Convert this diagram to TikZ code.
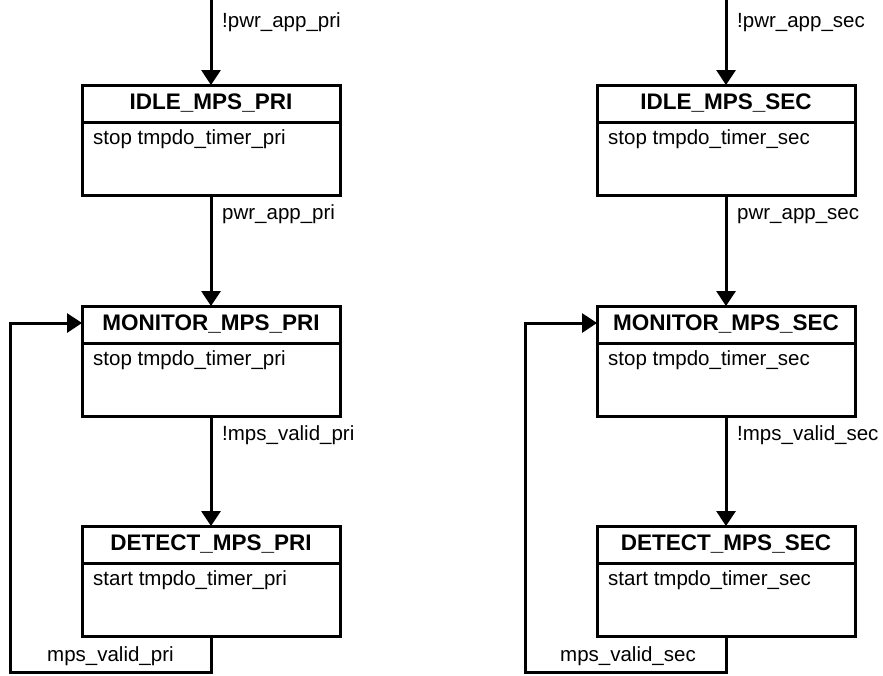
\documentclass[tikz,border=0pt]{standalone}
\usepackage{fontspec}
\setmainfont{Liberation Sans}
\usetikzlibrary{arrows.meta,calc}
\begin{document}
\begin{tikzpicture}[x=1pt,y=-1pt,
  sbox/.style={draw,line width=3pt,minimum width=258pt,minimum height=110pt,inner sep=0pt,outer sep=0pt,anchor=north west},
  stitle/.style={font=\fontsize{22.5}{26}\selectfont\bfseries,inner sep=0pt},
  sbody/.style={font=\fontsize{20.5}{24}\selectfont,inner sep=0pt,anchor=base west},
  elabel/.style={font=\fontsize{20.5}{24}\selectfont,inner sep=0pt,anchor=base west},
  arr/.style={line width=3pt,-{Triangle[width=19pt,length=15pt]}},
  ln/.style={line width=3pt}]
\useasboundingbox (0,0) rectangle (883,675);

% states
\foreach \nm/\x/\y/\ttl/\bd in {
  idlep/82/85/IDLE\_MPS\_PRI/stop tmpdo\_timer\_pri,
  monp/82/306/MONITOR\_MPS\_PRI/stop tmpdo\_timer\_pri,
  detp/82/526/DETECT\_MPS\_PRI/start tmpdo\_timer\_pri,
  idles/597/85/IDLE\_MPS\_SEC/stop tmpdo\_timer\_sec,
  mons/597/306/MONITOR\_MPS\_SEC/stop tmpdo\_timer\_sec,
  dets/597/526/DETECT\_MPS\_SEC/start tmpdo\_timer\_sec}{
  \node[sbox] (\nm) at (\x,\y) {};
  \draw[ln] ($(\nm.north west)+(0,37)$) -- ($(\nm.north east)+(0,37)$);
  \node[stitle] (\nm-t) at ($(\nm.north)+(0,18.5)$) {\ttl};
  \node[sbody] (\nm-b) at ($(\nm.north west)+(11,59)$) {\bd};
}

% helper coordinates
\coordinate (top) at (0,0);
\coordinate (bot) at (0,672);
\coordinate (startp) at (idlep.north |- top);
\coordinate (starts) at (idles.north |- top);
\coordinate (monpin) at ($(monp.north west)+(0,17)$);
\coordinate (monsin) at ($(mons.north west)+(0,17)$);
\coordinate (lpb) at (detp.south |- bot);
\coordinate (lpl) at (10,672);
\coordinate (lsb) at (dets.south |- bot);
\coordinate (lsl) at (525,672);

% left column
\draw[arr] (startp) -- (idlep.north);
\node[elabel] (l1) at (222,27) {!pwr\_app\_pri};
\draw[arr] (idlep.south) -- (monp.north);
\node[elabel] (l2) at (222,219) {pwr\_app\_pri};
\draw[arr] (monp.south) -- (detp.north);
\node[elabel] (l3) at (222,440) {!mps\_valid\_pri};
\draw[arr,line join=miter] (detp.south) -- (lpb) -- (lpl) |- (monpin);
\node[elabel] (l4) at (47,661) {mps\_valid\_pri};

% right column
\draw[arr] (starts) -- (idles.north);
\node[elabel] (r1) at (737,27) {!pwr\_app\_sec};
\draw[arr] (idles.south) -- (mons.north);
\node[elabel] (r2) at (737,219) {pwr\_app\_sec};
\draw[arr] (mons.south) -- (dets.north);
\node[elabel] (r3) at (737,440) {!mps\_valid\_sec};
\draw[arr,line join=miter] (dets.south) -- (lsb) -- (lsl) |- (monsin);
\node[elabel] (r4) at (560,661) {mps\_valid\_sec};
\end{tikzpicture}
\end{document}
